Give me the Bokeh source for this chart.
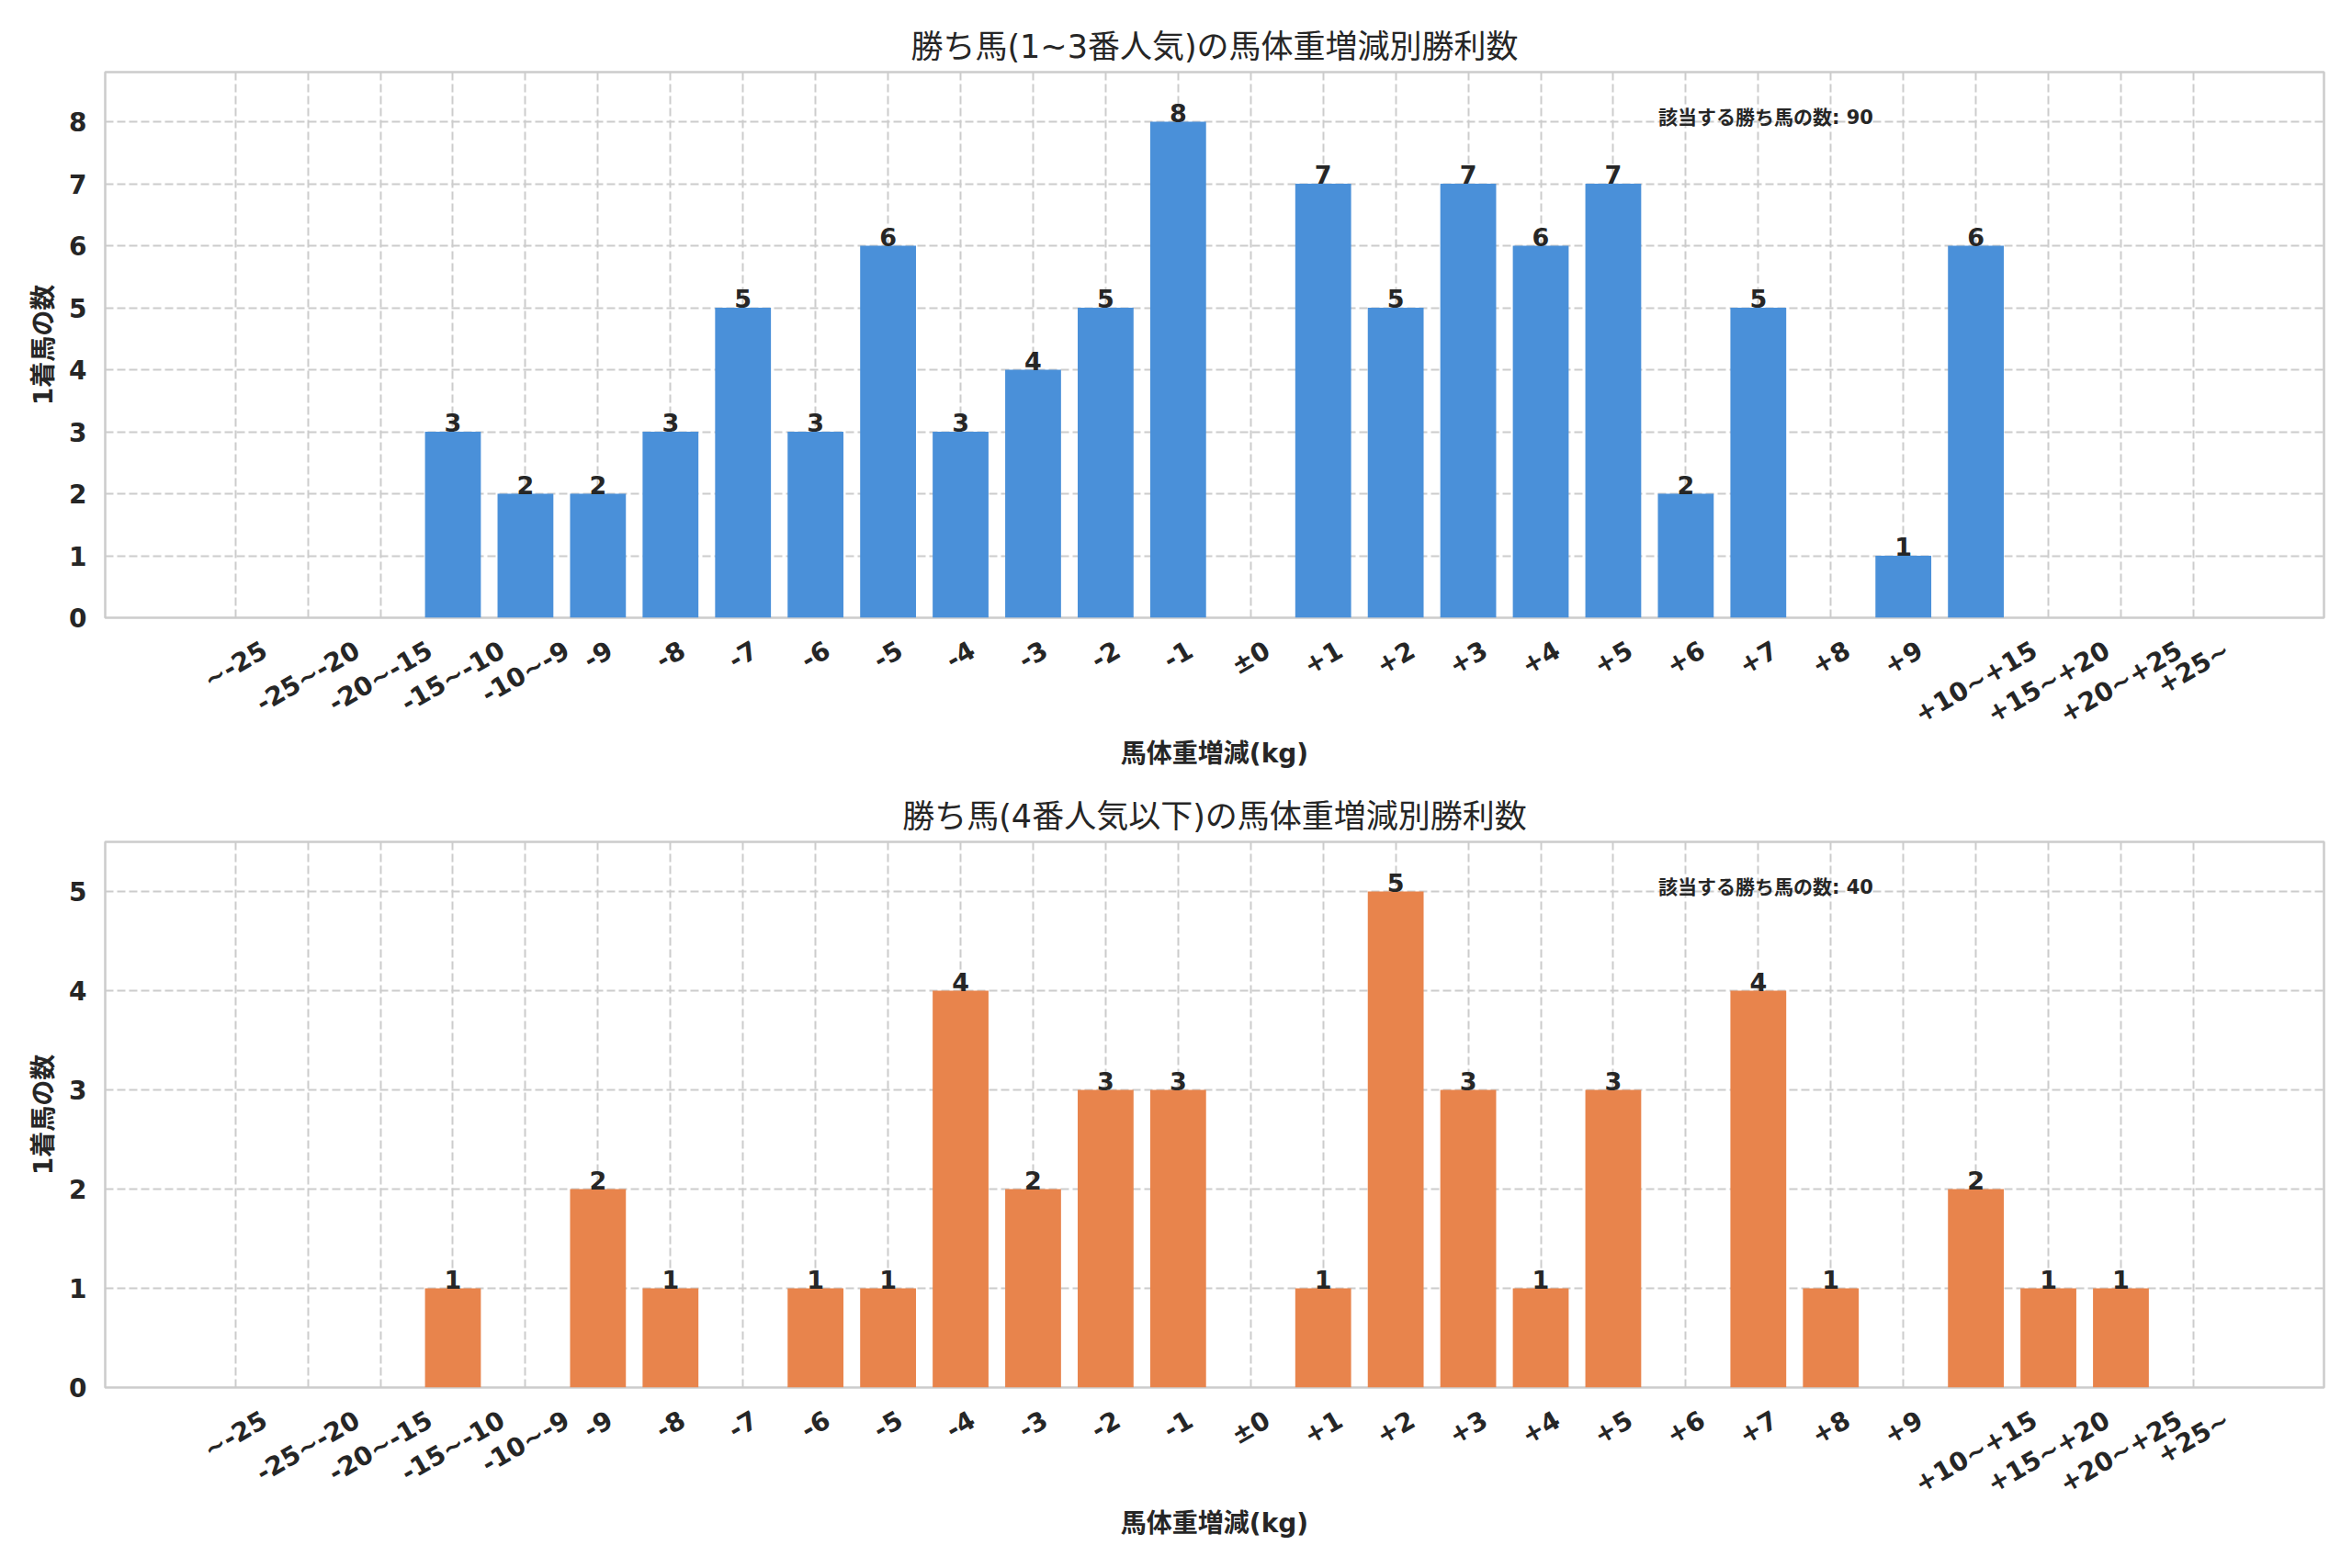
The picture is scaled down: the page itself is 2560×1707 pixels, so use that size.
import math
from bokeh.plotting import figure
from bokeh.models import ColumnDataSource, LabelSet, Label, FixedTicker, Range1d
from bokeh.layouts import column
from bokeh.embed import file_html
from bokeh.resources import INLINE
from bokeh.core.properties import value

# ---- data ----
categories = ["~-25", "-25~-20", "-20~-15", "-15~-10", "-10~-9", "-9", "-8", "-7", "-6", "-5",
              "-4", "-3", "-2", "-1", "±0", "+1", "+2", "+3", "+4", "+5", "+6", "+7", "+8", "+9",
              "+10~+15", "+15~+20", "+20~+25", "+25~"]
counts_top = [0, 0, 0, 3, 2, 2, 3, 5, 3, 6, 3, 4, 5, 8, 0, 7, 5, 7, 6, 7, 2, 5, 0, 1, 6, 0, 0, 0]
counts_bottom = [0, 0, 0, 1, 0, 2, 1, 0, 1, 1, 4, 2, 3, 3, 0, 1, 5, 3, 1, 3, 0, 4, 1, 0, 2, 1, 1, 0]
title_top = "勝ち馬(1~3番人気)の馬体重増減別勝利数"
title_bottom = "勝ち馬(4番人気以下)の馬体重増減別勝利数"
x_title = "馬体重増減(kg)"
y_title = "1着馬の数"
note_label = "該当する勝ち馬の数"

FONT = "DejaVu Sans, Noto Sans CJK JP"
TXT = "#262626"
GRID = "#cccccc"
XMIN, XMAX = -1.795, 28.80
FRAME_W = 2415
TICK_FS = 28
ANGLE = math.radians(30)
CHAR_W = {"-": 0.415, "~": 0.838, "+": 0.838, "±": 0.838}


def text_w(s):
    return sum(CHAR_W.get(c, 0.696) for c in s) * TICK_FS


def make(counts, color, title, ymax, yticks, top_border, bottom_border):
    idx = list(range(len(categories)))
    p = figure(frame_width=FRAME_W, frame_height=594,
               x_range=Range1d(XMIN, XMAX), y_range=Range1d(0, ymax),
               output_backend="svg", toolbar_location=None,
               min_border_left=114, min_border_right=23,
               min_border_top=top_border, min_border_bottom=bottom_border,
               background_fill_color="white", border_fill_color="white")
    p.title.text = title
    p.title.align = "center"
    p.title.text_font = FONT
    p.title.text_font_size = "35px"
    p.title.text_font_style = "normal"
    p.title.text_color = TXT
    p.title.standoff = 16

    p.outline_line_color = GRID
    p.outline_line_width = 2.5

    src = ColumnDataSource(dict(x=idx, top=counts))
    p.vbar(x="x", top="top", width=0.77, source=src, fill_color=color, line_color=None)

    nz = [i for i, v in enumerate(counts) if v > 0]
    vsrc = ColumnDataSource(dict(x=nz, y=[counts[i] for i in nz],
                                 t=[str(counts[i]) for i in nz]))
    p.add_layout(LabelSet(x="x", y="y", text="t", source=vsrc,
                          text_align="center", text_baseline="alphabetic",
                          text_font=value(FONT), text_font_size=value("27px"),
                          text_font_style="bold", text_color=TXT))

    total = sum(counts)
    p.add_layout(Label(x=XMIN + 0.7 * (XMAX - XMIN), y=0.916 * ymax,
                       text=f"{note_label}: {total}", text_align="left",
                       text_baseline="middle", text_font=FONT,
                       text_font_size="21px", text_font_style="bold", text_color=TXT))

    # x tick labels: Bokeh anchors rotated labels at their right end, so the
    # tick is moved by half the label's horizontal run to centre the label
    # on its category (gridlines keep the category positions).
    px_per_unit = FRAME_W / (XMAX - XMIN)
    tick_pos = [round(i + text_w(c) * math.cos(ANGLE) / 2 / px_per_unit, 4)
                for i, c in zip(idx, categories)]
    p.xaxis.ticker = FixedTicker(ticks=tick_pos)
    p.xaxis.major_label_overrides = {t: c for t, c in zip(tick_pos, categories)}
    p.xaxis.major_label_orientation = ANGLE
    p.xaxis.major_label_text_font = FONT
    p.xaxis.major_label_text_font_style = "bold"
    p.xaxis.major_label_text_font_size = f"{TICK_FS}px"
    p.xaxis.major_label_text_color = TXT
    p.xaxis.major_label_standoff = 33
    p.xgrid.ticker = FixedTicker(ticks=idx)

    p.yaxis.ticker = FixedTicker(ticks=yticks)
    for ax in (p.xaxis, p.yaxis):
        ax.axis_line_color = None
        ax.major_tick_line_color = None
        ax.minor_tick_line_color = None
        ax.major_tick_out = 0
        ax.axis_label_text_font = FONT
        ax.axis_label_text_font_style = "bold"
        ax.axis_label_text_color = TXT
    p.yaxis.major_label_text_font = FONT
    p.yaxis.major_label_text_font_style = "bold"
    p.yaxis.major_label_text_font_size = "28px"
    p.yaxis.major_label_text_color = TXT
    p.yaxis.major_label_standoff = 20
    p.xaxis.axis_label = x_title
    p.xaxis.axis_label_text_font_size = "28px"
    p.xaxis.axis_label_standoff = -7
    p.yaxis.axis_label = y_title
    p.yaxis.axis_label_text_font_size = "28px"
    p.yaxis.axis_label_standoff = 8

    for g in (p.xgrid, p.ygrid):
        g.grid_line_color = GRID
        g.grid_line_width = 2
        g.grid_line_dash = "9 4"
    return p


p1 = make(counts_top, "#4a90d9", title_top, 8.8, list(range(0, 9)), 78, 176)
p2 = make(counts_bottom, "#e8844c", title_bottom, 5.5, list(range(0, 6)), 68, 190)

layout = column(p1, p2)
open("out.html", "w").write(file_html(layout, INLINE))
